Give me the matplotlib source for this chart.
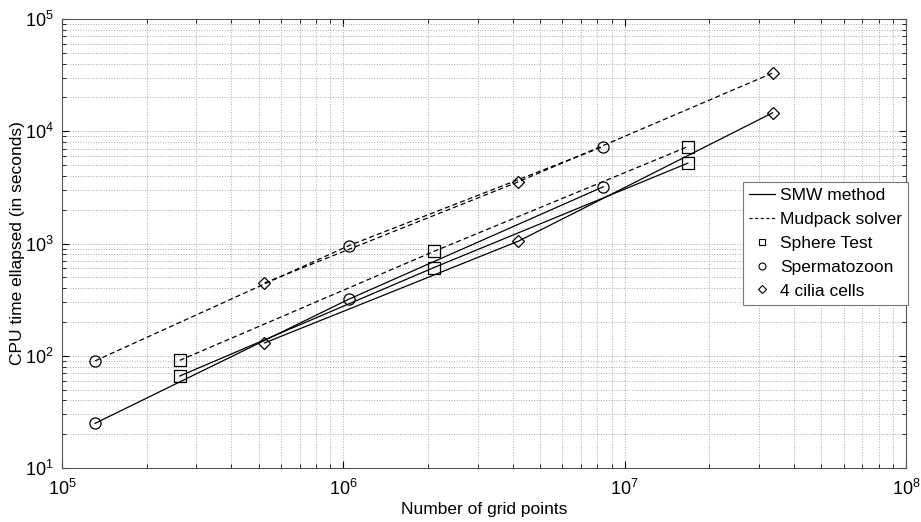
import matplotlib
matplotlib.use("Agg")
import matplotlib.pyplot as plt
from matplotlib.lines import Line2D

# grid sizes per test case
sphere_n = [262144, 2097152, 16777216]
sperm_n = [131072, 1048576, 8388608]
cilia_n = [524288, 4194304, 33554432]

# CPU time in seconds
sphere_smw = [66, 610, 5200]
sphere_mud = [91, 850, 7300]
sperm_smw = [25, 320, 3200]
sperm_mud = [90, 960, 7300]
cilia_smw = [130, 1050, 14600]
cilia_mud = [445, 3550, 33000]

plt.rcParams['font.family'] = ['Liberation Sans', 'DejaVu Sans']
plt.rcParams['mathtext.fontset'] = 'custom'
plt.rcParams['mathtext.rm'] = 'Liberation Sans'

fig = plt.figure(figsize=(9.21, 5.22), dpi=100)
ax = fig.add_axes([0.0673, 0.1034, 0.9164, 0.8602])

cases = [
    (sphere_n, sphere_smw, sphere_mud, 's'),
    (sperm_n, sperm_smw, sperm_mud, 'o'),
    (cilia_n, cilia_smw, cilia_mud, 'D'),
]
for n, smw, mud, mk in cases:
    ms = 6.5 if mk == 'D' else 8
    ax.plot(n, smw, '-', color='black', lw=0.9, marker=mk, ms=ms,
            mfc='none', mec='black', mew=0.9)
    ax.plot(n, mud, '--', color='black', lw=0.9, marker=mk, ms=ms,
            mfc='none', mec='black', mew=0.9, dashes=(4, 2.5))

ax.set_xscale('log')
ax.set_yscale('log')
ax.set_xlim(1e5, 1e8)
ax.set_ylim(1e1, 1e5)

ax.grid(True, which='both', linestyle=':', color='#aaaaaa', lw=0.7)
ax.tick_params(which='both', direction='in', top=True, right=True, labelsize=13)
ax.tick_params(which='major', length=5)
ax.tick_params(which='minor', length=3)
ax.tick_params(axis='x', which='both', pad=8)
ax.tick_params(axis='y', which='both', pad=6)
for s in ax.spines.values():
    s.set_color('#555555')

ax.set_xlabel('Number of grid points', fontsize=12.5, labelpad=2)
ax.set_ylabel('CPU time ellapsed (in seconds)', fontsize=12.5, labelpad=0)

handles = [
    Line2D([], [], color='black', lw=0.9, ls='-'),
    Line2D([], [], color='black', lw=0.9, ls='--', dashes=(2.5, 2)),
    Line2D([], [], color='black', ls='none', marker='s', ms=5, mfc='none', mew=0.8),
    Line2D([], [], color='black', ls='none', marker='o', ms=5, mfc='none', mew=0.8),
    Line2D([], [], color='black', ls='none', marker='D', ms=4.5, mfc='none', mew=0.8),
]
labels = ['SMW method', 'Mudpack solver', 'Sphere Test', 'Spermatozoon', '4 cilia cells']
leg = ax.legend(handles, labels, loc='upper left', bbox_to_anchor=(0.807, 0.637),
                fontsize=12.5, fancybox=False, edgecolor='#777777', framealpha=1,
                handlelength=1.5, handletextpad=0.3, borderpad=0.35, labelspacing=0.5,
                borderaxespad=0)
leg.get_frame().set_linewidth(0.8)

fig.savefig('out.png', dpi=100)
